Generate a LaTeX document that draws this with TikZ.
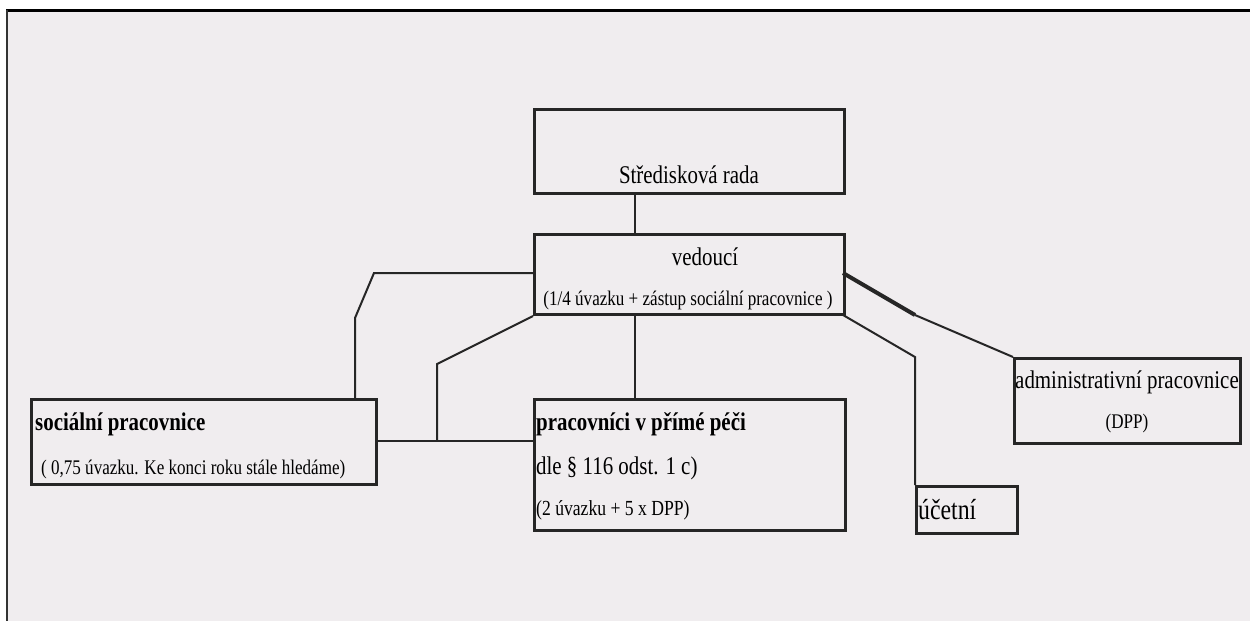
\documentclass[tikz,border=0pt]{standalone}
\usepackage{fontspec}
\setmainfont{Liberation Serif}[FakeStretch=0.82]
\begin{document}
\begin{tikzpicture}[x=1pt,y=-1pt,
  box/.style={draw=black!85, line width=3pt, inner sep=0pt, anchor=north west},
  conn/.style={draw=black!85, line width=2pt},
  big/.style={font=\fontsize{25.5}{30}\selectfont, inner sep=0pt},
  mid/.style={font=\fontsize{20.8}{25}\selectfont, inner sep=0pt},
  small/.style={font=\fontsize{21.5}{25}\selectfont, inner sep=0pt}]
\definecolor{paper}{RGB}{240,237,239}
\useasboundingbox (0,0) rectangle (1250,621);
\fill[white] (0,0) rectangle (1250,621);
\fill[paper] (7,11) rectangle (1250,621);
\draw[line width=3pt] (6,10.5) -- (1250,10.5);
\draw[line width=2pt, black!80] (7,10) -- (7,621);
% boxes
\node[box, minimum width=310, minimum height=84] (rada) at (533,108) {};
\node[box, minimum width=310, minimum height=80] (ved) at (533,233) {};
\node[box, minimum width=345, minimum height=85] (soc) at (30,398) {};
\node[box, minimum width=311, minimum height=131] (pp) at (533,398) {};
\node[box, minimum width=101, minimum height=47] (uc) at (915,485) {};
\node[box, minimum width=226, minimum height=85] (adm) at (1013,357) {};
% texts
\node[big, anchor=base] (tRada) at (689,183) {Středisková rada};
\node[big, anchor=base] (tVed) at (705,265) {vedoucí};
\node[mid, anchor=base] (tVed2) at (688,305) {(1/4 úvazku + zástup sociální pracovnice )};
\node[big, anchor=base west] (tSoc) at (35,430) {\bfseries sociální pracovnice};
\node[mid, anchor=base west] (tSoc2) at (41,474) {( 0,75 úvazku. Ke konci roku stále hledáme)};
\node[big, anchor=base west] (tPp) at (536,430) {\bfseries pracovníci v přímé péči};
\node[big, anchor=base west] (tPp2) at (536,474) {dle § 116 odst. 1 c)};
\node[small, anchor=base west] (tPp3) at (536,515) {(2 úvazku + 5 x DPP)};
\node[big, anchor=base] (tAdm) at (1127,388) {administrativní pracovnice};
\node[mid, anchor=base] (tAdm2) at (1127,428) {(DPP)};
\node[font=\fontsize{29}{32}\selectfont, inner sep=0pt, anchor=base west] (tUc) at (918,519) {účetní};
% helper coordinates
\coordinate (cx) at (635,0);
\coordinate (s1) at (355,318);
\coordinate (s2) at (374,273);
\coordinate (p1) at (437,364);
\coordinate (p2) at (437,441);
\coordinate (u1) at (915,357);
\coordinate (a1) at (843,273);
\coordinate (a2) at (915,315);
\coordinate (r1) at (843,315);
% connectors
\draw[conn] (rada.south -| cx) -- (ved.north -| cx);
\draw[conn] (ved.south -| cx) -- (pp.north -| cx);
\draw[conn] (soc.north -| s1) -- (s1) -- (s2) -- (s2 -| ved.west);
\draw[conn] (ved.south west) -- (p1) -- (p2);
\draw[conn] (soc.east |- p2) -- (pp.west |- p2);
\draw[conn] (r1) -- (u1) -- (uc.north west);
\draw[draw=black!85, line width=4pt] (a1) -- (a2);
\draw[conn] (a2) -- (adm.north west);
\end{tikzpicture}
\end{document}
